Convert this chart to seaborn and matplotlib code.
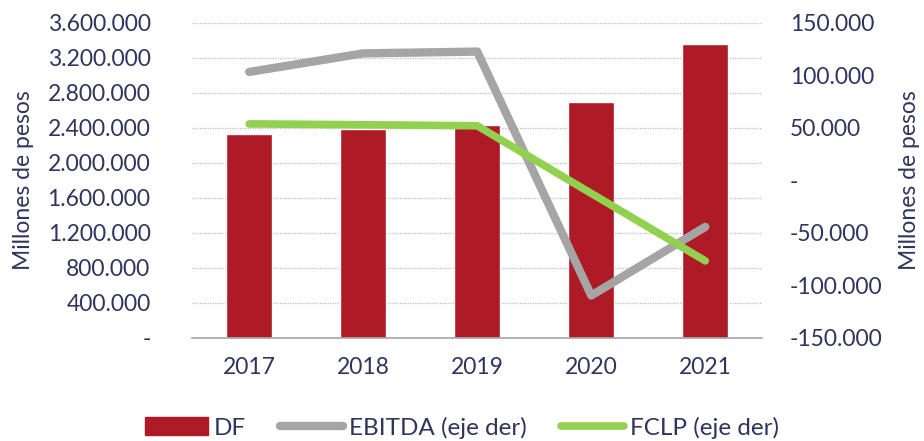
import numpy as np
import pandas as pd
import matplotlib
matplotlib.use("Agg")
import matplotlib.pyplot as plt
import seaborn as sns
from matplotlib.patches import Patch
from matplotlib.lines import Line2D
from matplotlib.ticker import FuncFormatter

years = ["2017", "2018", "2019", "2020", "2021"]
df_vals = [2331000, 2389000, 2434000, 2700000, 3357000]
ebitda = [103300, 121000, 122700, -109700, -44300]
fclp = [53800, 53000, 52000, -12400, -76700]

BAR = "#AE1A25"
GRAY = "#A5A5A5"
GREEN = "#92D050"
TXT = "#2F355E"

sns.set_style("white")
plt.rcParams["font.family"] = ["Lato", "DejaVu Sans"]

def miles(v, pos):
    if abs(v) < 1e-6:
        return "-"
    return f"{v:,.0f}".replace(",", ".")

data = pd.DataFrame({"year": years, "DF": df_vals, "EBITDA": ebitda, "FCLP": fclp})

fig = plt.figure(figsize=(9.24, 4.41), dpi=100)
ax = fig.add_axes([0.208, 0.234, 0.617, 0.714])

sns.barplot(data=data, x="year", y="DF", color=BAR, width=0.4, saturation=1, ax=ax, zorder=2)
ax.set_ylim(0, 3600000)
ax.set_yticks(np.arange(0, 3600001, 400000))
ax.yaxis.set_major_formatter(FuncFormatter(miles))
ax.grid(axis="y", color="#BFBFBF", linestyle=(0, (1, 1)), linewidth=0.9, zorder=0)
ax.set_axisbelow(True)

ax2 = ax.twinx()
sns.lineplot(data=data, x="year", y="EBITDA", color=GRAY, linewidth=6, ax=ax2, solid_capstyle="round")
sns.lineplot(data=data, x="year", y="FCLP", color=GREEN, linewidth=5.5, ax=ax2, solid_capstyle="round")
ax2.set_ylim(-150000, 150000)
ax2.set_yticks(np.arange(-150000, 150001, 50000))
ax2.yaxis.set_major_formatter(FuncFormatter(miles))
ax.set_xlim(-0.5, 4.5)

for a in (ax, ax2):
    for s in a.spines.values():
        s.set_visible(False)
    a.tick_params(axis="y", length=0, labelsize=16.5, labelcolor=TXT)
ax.spines["bottom"].set_visible(True)
ax.spines["bottom"].set_color("#A6A6A6")
ax.spines["bottom"].set_linewidth(1.2)

ax.set_xticks(np.arange(-0.5, 5, 1), minor=True)
ax.tick_params(axis="x", which="minor", length=8, color="#A6A6A6", width=1.2)
ax.tick_params(axis="x", which="major", length=0, labelsize=16.5, labelcolor=TXT, pad=14)
ax.tick_params(axis="y", pad=30)
ax2.tick_params(axis="y", pad=20)

ax.set_xlabel("")
ax.set_ylabel("Millones de pesos", fontsize=16.5, color=TXT, labelpad=10)
ax2.set_ylabel("Millones de pesos", fontsize=16.5, color=TXT, labelpad=12)

handles = [
    Patch(facecolor=BAR, edgecolor=BAR),
    Line2D([], [], color=GRAY, linewidth=6, solid_capstyle="round"),
    Line2D([], [], color=GREEN, linewidth=5.5, solid_capstyle="round"),
]
labels = ["DF", "EBITDA (eje der)", "FCLP (eje der)"]
fig.legend(handles, labels, loc="center", bbox_to_anchor=(0.5, 0.03), ncol=3, frameon=False,
           fontsize=17.5, labelcolor=TXT, handlelength=2.6, handleheight=0.75,
           handletextpad=0.25, columnspacing=1.4)

fig.savefig("out.png", dpi=100)
